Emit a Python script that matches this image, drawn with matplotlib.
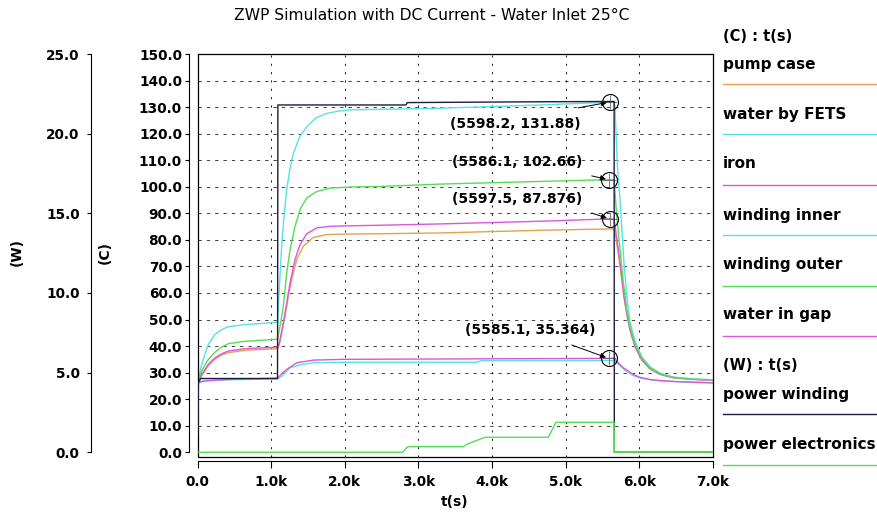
import matplotlib
matplotlib.use("Agg")
import matplotlib.pyplot as plt
from matplotlib.lines import Line2D

# ---- data (time in s, temperatures in C, power in W) ----
pump_case_t = [0, 54, 144, 235, 326, 416, 643, 870, 1085, 1110, 1187, 1232, 1278, 1346, 1436,
               1571, 1753, 2070, 2478, 3295, 4653, 5600, 5650, 5673, 5740, 5799, 5831, 5876,
               5944, 6035, 6148, 6284, 6465, 6737, 7000]
pump_case_c = [26.0, 28.8, 32.6, 35.1, 36.6, 37.5, 38.4, 38.7, 39.0, 40.5, 51.2, 58.8, 65.0, 72.6, 77.6,
               80.9, 82.0, 82.2, 82.3, 82.6, 83.6, 84.1, 84.2, 82.9, 70.2, 57.6, 52.0, 45.8,
               39.6, 34.7, 31.3, 29.3, 28.0, 27.4, 27.1]

iron_t = [0, 54, 144, 235, 326, 416, 643, 870, 1085, 1110, 1164, 1210, 1255, 1323, 1391, 1482,
          1618, 1798, 2070, 2478, 3295, 4653, 5597, 5660, 5672, 5717, 5763, 5795, 5831, 5876,
          5944, 6035, 6148, 6284, 6465, 6737, 7000]
iron_c = [26.0, 29.3, 33.1, 35.6, 37.1, 38.1, 39.0, 39.3, 39.6, 41.2, 48.8, 56.3, 63.8, 72.6, 78.2, 82.3,
          84.5, 85.1, 85.3, 85.5, 86.0, 87.0, 87.9, 87.9, 85.2, 76.5, 66.4, 58.5, 52.6, 46.3,
          40.0, 35.0, 31.5, 29.4, 28.1, 27.5, 27.1]

winding_outer_t = [0, 54, 144, 235, 326, 416, 643, 870, 1085, 1110, 1164, 1210, 1255, 1323, 1391,
                   1482, 1618, 1798, 2070, 2478, 3295, 3837, 4653, 5586, 5660, 5672, 5695, 5740,
                   5785, 5831, 5876, 5944, 6035, 6148, 6284, 6465, 6737, 7000]
winding_outer_c = [26.0, 30.6, 35.0, 37.7, 39.6, 40.9, 41.8, 42.2, 42.6, 46.0, 55.0, 67.6, 76.3, 85.1, 91.4,
                   95.8, 98.2, 99.5, 99.9, 100.1, 101.0, 101.4, 102.0, 102.66, 102.7, 98.0, 89.0, 76.5,
                   64.0, 54.0, 47.3, 40.8, 35.5, 31.8, 29.6, 28.2, 27.5, 27.2]

winding_inner_t = [0, 54, 144, 235, 326, 416, 643, 870, 1085, 1110, 1140, 1170, 1210, 1255, 1300,
                   1380, 1480, 1600, 1750, 1930, 2100, 2800, 3295, 4000, 4653, 5468, 5598, 5663,
                   5672, 5686, 5704, 5740, 5767, 5795, 5831, 5876, 5944, 6035, 6148, 6284, 6465,
                   6737, 7000]
winding_inner_c = [26.0, 33.1, 40.6, 44.4, 46.2, 47.3, 48.1, 48.5, 49.0, 62.0, 77.0, 88.0, 99.0, 107.0, 112.5,
                   118.5, 122.5, 125.8, 127.6, 128.6, 129.0, 129.3, 129.6, 130.2, 130.8, 131.7, 131.88, 131.9,
                   130.0, 120.4, 108.0, 95.0, 83.0, 71.0, 59.0, 49.0, 42.0, 36.0, 32.2, 29.8, 28.3,
                   27.6, 27.3]

water_gap_t = [0, 30, 200, 500, 1085, 1150, 1210, 1346, 1571, 1979, 3000, 4500, 5585, 5660, 5695,
               5785, 5831, 5921, 6012, 6150, 6284, 6600, 7000]
water_gap_c = [26.0, 26.6, 27.1, 27.5, 27.9, 29.8, 31.2, 33.7, 34.7, 35.0, 35.1, 35.25, 35.364, 35.4, 34.3,
               31.8, 31.0, 29.3, 28.2, 27.4, 27.0, 26.5, 26.2]

water_fets_t = [0, 100, 400, 1085, 1150, 1255, 1400, 1571, 2025, 3800, 3850, 5660, 5700, 5785, 5850,
                5920, 6010, 6150, 6300, 6600, 7000]
water_fets_c = [26.0, 27.0, 27.3, 27.6, 28.8, 31.8, 33.0, 33.7, 33.9, 33.9, 34.5, 34.6, 33.6, 31.4, 30.0,
                28.9, 28.0, 27.3, 26.9, 26.4, 26.1]

power_winding_t = [0, 10, 40, 1085, 1090, 2830, 2850, 4600, 5660, 5663, 7000]
power_winding_w = [1.0, 4.4, 4.63, 4.63, 21.8, 21.8, 21.95, 22.0, 22.02, 0.0, 0.0]

power_elec_t = [0, 2786, 2854, 3611, 3656, 3905, 4766, 4870, 5660, 5663, 7000]
power_elec_w = [0.0, 0.0, 0.35, 0.35, 0.5, 0.94, 0.94, 1.88, 1.88, 0.0, 0.0]

# marked points and their labels
mark_t = [5598.2, 5586.1, 5597.5, 5585.1]
mark_c = [131.88, 102.66, 87.876, 35.364]
mark_text = ["(5598.2, 131.88)", "(5586.1, 102.66)", "(5597.5, 87.876)", "(5585.1, 35.364)"]
text_pos = [(4313, 123.7), (4336, 109.5), (4340, 95.4), (4524, 46.1)]
arrow_from = [(5169, 129.7), (5355, 104.1), (5355, 90.1), (5084, 40.4)]

x_ticks = [0, 1000, 2000, 3000, 4000, 5000, 6000, 7000]
x_labels = ["0.0", "1.0k", "2.0k", "3.0k", "4.0k", "5.0k", "6.0k", "7.0k"]
c_ticks = list(range(0, 151, 10))
w_ticks = [0, 5, 10, 15, 20, 25]

ORANGE = "#E8A050"
CYAN = "#55E3E3"
MAGENTA = "#DD55DD"
GREEN = "#55DD55"
NAVY = "#1C1C45"

plt.rcParams['font.family'] = 'DejaVu Sans'

W, H = 878, 516
fig = plt.figure(figsize=(W / 100, H / 100), dpi=100)
ax = fig.add_axes([197.7 / W, 1 - 456.5 / H, 515 / W, 402.5 / H])

c_lo = -1.6
ax.set_xlim(0, 7000)
ax.set_ylim(c_lo, 150)

# grid (light dashes horizontally, short dots vertically)
for c in c_ticks[1:-1]:
    ax.axhline(c, color="#222222", lw=0.6, ls=(0, (4, 6)), zorder=0)
for t in x_ticks[1:-1]:
    ax.axvline(t, color="#222222", lw=0.75, ls=(0, (2, 6)), zorder=0)

lw = 1.0
ax.plot(pump_case_t, pump_case_c, color=ORANGE, lw=lw)
ax.plot(water_fets_t, water_fets_c, color=CYAN, lw=lw)
ax.plot(iron_t, iron_c, color=MAGENTA, lw=lw)
ax.plot(winding_inner_t, winding_inner_c, color=CYAN, lw=lw)
ax.plot(winding_outer_t, winding_outer_c, color=GREEN, lw=lw)
ax.plot(water_gap_t, water_gap_c, color=MAGENTA, lw=lw)

# power on the W axis
axw = ax.twinx()
axw.set_ylim(c_lo / 6, 25)
axw.plot(power_winding_t, power_winding_w, color=NAVY, lw=lw)
axw.plot(power_elec_t, power_elec_w, color=GREEN, lw=lw)

# markers + annotations
ax.plot(mark_t, mark_c, 'o', mfc='none', mec='black', ms=11.5, mew=0.8, zorder=5)
ax.plot(mark_t, mark_c, '+', color='dimgray', ms=10, mew=0.6, zorder=5)
for lab, (tx, ty), (ax0, ay0), mt, mc in zip(mark_text, text_pos, arrow_from, mark_t, mark_c):
    ax.text(tx, ty, lab, ha='center', va='center', fontsize=10, fontweight='bold', zorder=6)
    ax.annotate('', xy=(mt, mc), xytext=(ax0, ay0),
                arrowprops=dict(arrowstyle='-|>', color='black', lw=0.7,
                                mutation_scale=8, shrinkA=0, shrinkB=2), zorder=6)

# frame and detached axes
for s in ['top', 'right']:
    ax.spines[s].set_linewidth(0.9)
ax.plot([0, 0, 1], [1, 0, 0], transform=ax.transAxes, color='black', lw=0.9, clip_on=False)
ax.spines['left'].set_position(('outward', 6.3))
ax.spines['left'].set_bounds(0, 150)
ax.spines['bottom'].set_position(('outward', 3.2))
ax.spines['bottom'].set_bounds(0, 7000)
for s in ['left', 'bottom']:
    ax.spines[s].set_linewidth(0.8)

ax.set_xticks(x_ticks)
ax.set_xticklabels(x_labels)
ax.set_yticks(c_ticks)
ax.set_yticklabels([f"{c:.1f}" for c in c_ticks])
ax.tick_params(axis='x', direction='out', length=5, width=0.8, pad=5, labelsize=9.8)
ax.tick_params(axis='y', direction='out', length=3, width=0.8, pad=2, labelsize=9.8)
for lbl in ax.get_xticklabels() + ax.get_yticklabels():
    lbl.set_fontweight('bold')

for s in ['right', 'top', 'bottom']:
    axw.spines[s].set_visible(False)
axw.spines['left'].set_visible(True)
axw.spines['left'].set_position(('outward', 77))
axw.spines['left'].set_bounds(0, 25)
axw.spines['left'].set_linewidth(0.8)
axw.yaxis.set_ticks_position('left')
axw.set_yticks(w_ticks)
axw.set_yticklabels([f"{w:.1f}" for w in w_ticks])
axw.tick_params(axis='y', direction='out', length=3, width=0.8, pad=5, labelsize=9.8)
for lbl in axw.get_yticklabels():
    lbl.set_fontweight('bold')

# labels
fig.text(431.5 / W, 1 - 15 / H, "ZWP Simulation with DC Current - Water Inlet 25°C",
         ha='center', va='center', fontsize=11.2)
fig.text(455 / W, 1 - 502 / H, "t(s)", ha='center', va='center', fontsize=10, fontweight='bold')
fig.text(16.7 / W, 1 - 252 / H, "(W)", ha='center', va='center', rotation=90, fontsize=10, fontweight='bold')
fig.text(105 / W, 1 - 252 / H, "(C)", ha='center', va='center', rotation=90, fontsize=10, fontweight='bold')

# legend on the right
legend_items = [
    ("(C) : t(s)", 36.7, None, None),
    ("pump case", 65, 83.5, ORANGE),
    ("water by FETS", 114, 134.3, CYAN),
    ("iron", 164, 184.5, MAGENTA),
    ("winding inner", 215, 235, CYAN),
    ("winding outer", 265, 286, GREEN),
    ("water in gap", 315, 336, MAGENTA),
    ("(W) : t(s)", 366, None, None),
    ("power winding", 394, 414, NAVY),
    ("power electronics", 445, 465, GREEN),
]
for lab, ty, ly, col in legend_items:
    fig.text(723 / W, 1 - ty / H, lab, ha='left', va='center', fontsize=11 if col else 10.5,
             fontweight='bold')
    if col:
        fig.add_artist(Line2D([723 / W, 1.0], [1 - ly / H, 1 - ly / H], color=col, lw=1.0,
                              transform=fig.transFigure))

fig.savefig("out.png", dpi=100)
